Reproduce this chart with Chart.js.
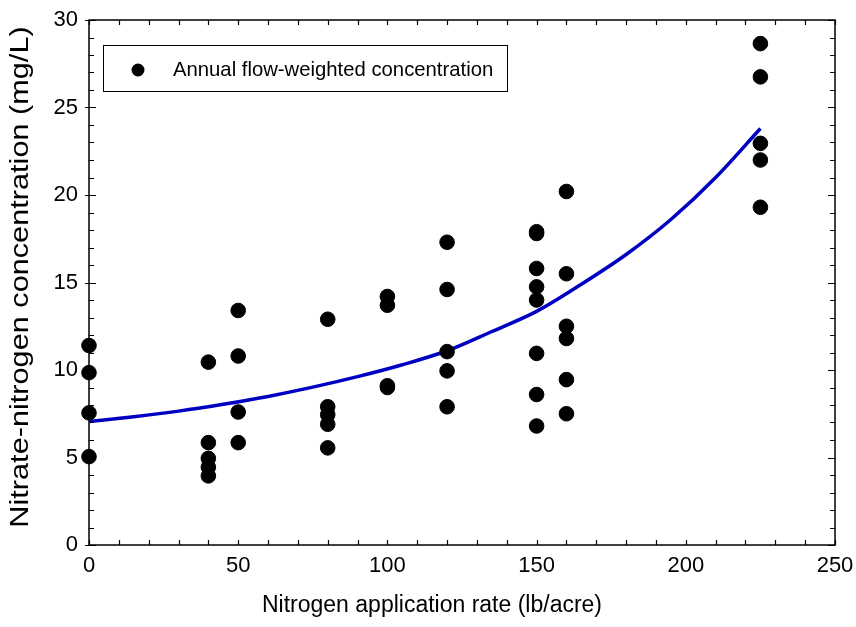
<!DOCTYPE html>
<html>
<head>
<meta charset="utf-8">
<script src="https://cdn.jsdelivr.net/npm/chart.js@4/dist/chart.umd.min.js"></script>
<style>
  html, body { margin: 0; padding: 0; background: #fff; }
  #wrap { width: 856px; height: 627px; }
</style>
</head>
<body>
<div id="wrap"><canvas id="c" width="856" height="627"></canvas></div>
<script>
// ---- data ----
const rates = [0, 40, 50, 80, 100, 120, 150, 160, 225];
const concAt0   = [11.4, 9.85, 7.55, 5.05];
const concAt40  = [10.45, 5.85, 4.95, 4.45, 3.95];
const concAt50  = [13.4, 10.8, 7.6, 5.85];
const concAt80  = [12.9, 7.9, 7.45, 6.9, 5.55];
const concAt100 = [14.2, 13.7, 9.1, 9.0];
const concAt120 = [17.3, 14.6, 11.05, 9.95, 7.9];
const concAt150 = [17.9, 17.8, 15.8, 14.75, 14.0, 10.95, 8.6, 6.8];
const concAt160 = [20.2, 15.5, 12.5, 11.8, 9.45, 7.5];
const concAt225 = [28.65, 26.75, 22.95, 22.0, 19.3];
const concByRate = [concAt0, concAt40, concAt50, concAt80, concAt100, concAt120, concAt150, concAt160, concAt225];

const fitX = [0, 15, 30, 45, 60, 75, 90, 105, 120, 135, 150, 165, 180, 195, 210, 225];
const fitY = [7.05, 7.33, 7.65, 8.04, 8.49, 9.02, 9.62, 10.3, 11.1, 12.2, 13.35, 14.9, 16.6, 18.6, 21.0, 23.8];

const xTicks = [0, 50, 100, 150, 200, 250];
const yTicks = [0, 5, 10, 15, 20, 25, 30];

const legendLabel = 'Annual flow-weighted concentration';
const xTitle = 'Nitrogen application rate (lb/acre)';
const yTitle = 'Nitrate-nitrogen concentration (mg/L)';

// ---- build datasets ----
const scatterPts = [];
rates.forEach((r, i) => concByRate[i].forEach(v => scatterPts.push({x: r, y: v})));
const fitPts = fitX.map((x, i) => ({x: x, y: fitY[i]}));

const FONT = '"Liberation Sans", Arial, Helvetica, sans-serif';

const framePlugin = {
  id: 'frame',
  afterDraw(chart) {
    const ctx = chart.ctx;
    const a = chart.chartArea;
    const xs = chart.scales.x, ys = chart.scales.y;
    ctx.save();
    ctx.strokeStyle = '#000';
    ctx.lineWidth = 1.5;
    ctx.strokeRect(a.left, a.top, a.right - a.left, a.bottom - a.top);
    ctx.lineWidth = 1.2;
    ctx.beginPath();
    for (let v = 0; v <= 250; v += 10) {
      const px = Math.round(xs.getPixelForValue(v)) + 0.5;
      const len = 5;
      ctx.moveTo(px, a.bottom); ctx.lineTo(px, a.bottom - len);
      ctx.moveTo(px, a.top); ctx.lineTo(px, a.top + len);
    }
    for (let v = 0; v <= 30; v += 1) {
      const py = Math.round(ys.getPixelForValue(v)) + 0.5;
      const major = v % 5 === 0;
      const len = major ? 7 : 5;
      ctx.moveTo(a.left, py); ctx.lineTo(a.left + len, py);
      ctx.moveTo(a.right, py); ctx.lineTo(a.right - len, py);
      if (major) { ctx.moveTo(a.left, py); ctx.lineTo(a.left - 4, py); }
    }
    ctx.stroke();

    // legend box
    const bx = 103, by = 45, bw = 404, bh = 46;
    ctx.fillStyle = '#fff';
    ctx.fillRect(bx, by, bw, bh);
    ctx.lineWidth = 1;
    ctx.strokeStyle = '#000';
    ctx.strokeRect(bx + 0.5, by + 0.5, bw, bh);
    ctx.fillStyle = '#000';
    ctx.beginPath();
    ctx.arc(138, 70, 6.5, 0, Math.PI * 2);
    ctx.fill();
    ctx.font = '20.3px ' + FONT;
    ctx.textBaseline = 'middle';
    ctx.textAlign = 'left';
    ctx.fillText(chart.data.datasets[1].label, 173, 70);

    // axis titles
    ctx.textAlign = 'center';
    ctx.textBaseline = 'middle';
    ctx.font = '23px ' + FONT;
    ctx.fillText(xTitle, 432, 606);
    ctx.translate(21, 277);
    ctx.rotate(-Math.PI / 2);
    ctx.scale(1.18, 1);
    ctx.font = '26px ' + FONT;
    ctx.fillText(yTitle, 0, 0);
    ctx.restore();
  }
};

new Chart(document.getElementById('c'), {
  data: {
    datasets: [
      {
        type: 'line',
        label: 'Fit',
        data: fitPts,
        borderColor: 'rgb(0,0,195)',
        borderWidth: 3.5,
        pointRadius: 0,
        fill: false,
        cubicInterpolationMode: 'monotone',
        order: 2
      },
      {
        type: 'scatter',
        label: legendLabel,
        data: scatterPts,
        backgroundColor: '#000',
        borderColor: '#000',
        pointRadius: 7.3,
        pointHoverRadius: 7.3,
        clip: false,
        order: 1
      }
    ]
  },
  options: {
    responsive: false,
    animation: false,
    events: [],
    layout: { padding: { left: 0, top: 20, right: 21, bottom: 0 } },
    plugins: { legend: { display: false }, tooltip: { enabled: false } },
    scales: {
      x: {
        type: 'linear',
        min: 0, max: 250,
        afterFit(s) { s.height = 82; s.paddingRight = 0; s.paddingLeft = 0; },
        afterBuildTicks(s) { s.ticks = xTicks.map(v => ({value: v})); },
        grid: { display: false, drawTicks: false, tickLength: 0 },
        border: { display: false },
        ticks: { color: '#000', font: { family: FONT, size: 22 }, padding: 8 },
        title: { display: false }
      },
      y: {
        type: 'linear',
        min: 0, max: 30,
        afterFit(s) { s.width = 89; s.paddingTop = 0; s.paddingBottom = 0; },
        afterBuildTicks(s) { s.ticks = yTicks.map(v => ({value: v})); },
        grid: { display: false, drawTicks: false, tickLength: 0 },
        border: { display: false },
        ticks: { color: '#000', font: { family: FONT, size: 22 }, padding: 11 },
        title: { display: false }
      }
    }
  },
  plugins: [framePlugin]
});
</script>
</body>
</html>
